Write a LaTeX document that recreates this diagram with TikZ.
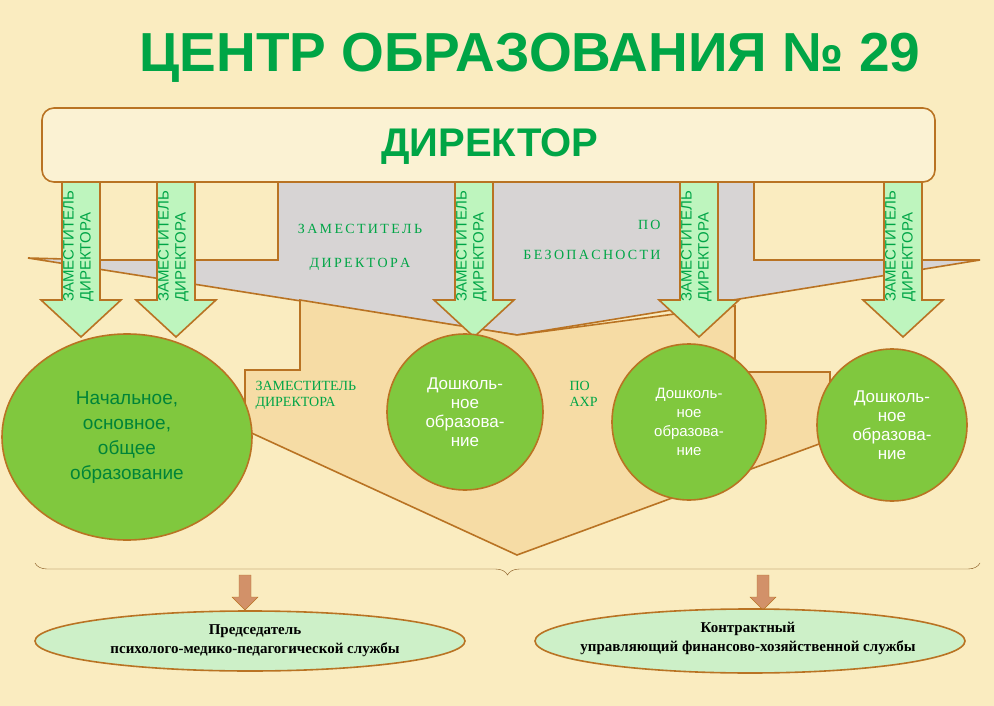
\documentclass[tikz,border=0pt]{standalone}
\usepackage{fontspec}
\setmainfont{Liberation Serif}
\setsansfont{Liberation Sans}
\usetikzlibrary{decorations.pathreplacing,shapes.geometric}
\definecolor{bgcream}{RGB}{250,236,192}
\definecolor{brownline}{RGB}{185,115,35}
\definecolor{grayfill}{RGB}{215,212,212}
\definecolor{beigefill}{RGB}{246,220,165}
\definecolor{titlegreen}{RGB}{0,165,70}
\definecolor{circlegreen}{RGB}{128,200,62}
\definecolor{arrowgreen}{RGB}{190,245,190}
\definecolor{ovalgreen}{RGB}{205,240,200}
\definecolor{downbrown}{RGB}{210,145,105}
\tikzset{
  outline/.style={draw=brownline, line width=1.6pt},
  unit/.style={outline, fill=circlegreen, ellipse, inner sep=0pt},
  deptext/.style={font=\sffamily\fontsize{17}{19}\selectfont, text=white, align=center},
  seriflabel/.style={font=\fontsize{14}{16}\selectfont, text=titlegreen, align=left},
  oval/.style={outline, fill=ovalgreen},
}
\begin{document}
\begin{tikzpicture}[x=1pt, y=-1pt]
  % background
  \fill[bgcream] (0,0) rectangle (994,706);
  \useasboundingbox (0,0) rectangle (994,706);

  % title
  \node[font=\sffamily\bfseries\fontsize{55}{57}\selectfont, text=titlegreen] (title) at (530,58) {ЦЕНТР ОБРАЗОВАНИЯ № 29};

  % deputy areas
  \draw[outline, fill=grayfill] (100,260) -- (278,260) -- (278,182) -- (754,182) -- (754,260) -- (980,260)
     -- (517,335) -- (28,258) -- cycle;
  \draw[outline, fill=beigefill] (300,300) -- (300,370) -- (245,370) -- (245,430) -- (517,555) -- (830,440)
     -- (830,372) -- (735,372) -- (735,306) -- (517,335) -- cycle;

  % director
  \draw[outline, fill=bgcream!70!white, rounded corners=12pt] (42,108) rectangle (935,182);
  \node[font=\sffamily\bfseries\fontsize{40}{42}\selectfont, text=titlegreen] (director) at (490,147) {ДИРЕКТОР};

  % deputy labels
  \node[seriflabel, font=\fontsize{14}{34}\selectfont, align=center] (safety1) at (360,247) {З\,А\,М\,Е\,С\,Т\,И\,Т\,Е\,Л\,Ь\\Д\,И\,Р\,Е\,К\,Т\,О\,Р\,А};
  \node[seriflabel, font=\fontsize{14}{30}\selectfont, align=right] (safety2) at (592,240) {П\,О\hspace{2.7em}\\Б\,Е\,З\,О\,П\,А\,С\,Н\,О\,С\,Т\,И};
  \node[seriflabel, anchor=north west] (ahr1) at (252,378) {ЗАМЕСТИТЕЛЬ\\ДИРЕКТОРА};
  \node[seriflabel, anchor=north west] (ahr2) at (566,378) {ПО\\АХР};

  % deputy arrows
  \foreach \cx in {81,176,474,699,903}{
    \draw[outline, fill=arrowgreen] (\cx-19,182) -- (\cx+19,182) -- (\cx+19,300) -- (\cx+40,300)
       -- (\cx,337) -- (\cx-40,300) -- (\cx-19,300) -- cycle;
    \node[rotate=90, font=\sffamily\fontsize{15}{17}\selectfont, text=titlegreen, align=left,
          anchor=north west, inner sep=1pt] at (\cx-19,303) {ЗАМЕСТИТЕЛЬ\\ДИРЕКТОРА};
  }

  % units
  \node[unit, minimum width=250pt, minimum height=206pt, deptext, text=titlegreen!80!black,
        font=\sffamily\fontsize{19}{25}\selectfont] (school) at (127,437) {Начальное,\\основное,\\общее\\образование};
  \node[unit, minimum width=156pt, minimum height=156pt, deptext] (preschool1) at (465,412) {Дошколь-\\ное\\образова-\\ние};
  \node[unit, minimum width=154pt, minimum height=156pt, deptext, font=\sffamily\fontsize{15}{19}\selectfont] (preschool2) at (689,422) {Дошколь-\\ное\\образова-\\ние};
  \node[unit, minimum width=150pt, minimum height=152pt, deptext] (preschool3) at (892,425) {Дошколь-\\ное\\образова-\\ние};

  % brace
  \draw[brownline!70!black, thin, decorate, decoration={brace, amplitude=12pt, mirror}] (35,563) -- (980,563);

  % services
  \foreach \cx in {245,763}{
    \draw[draw=brownline, fill=downbrown] (\cx-6,575) -- (\cx+6,575) -- (\cx+6,597) -- (\cx+13,597)
       -- (\cx,610) -- (\cx-13,597) -- (\cx-6,597) -- cycle;
  }
  \draw[oval] (250,641) ellipse (215pt and 30pt);
  \draw[oval] (750,641) ellipse (215pt and 32pt);
  \node[font=\bfseries\fontsize{15}{19}\selectfont, align=center] (psych) at (255,641) {Председатель\\психолого-медико-педагогической службы};
  \node[font=\bfseries\fontsize{15}{19}\selectfont, align=center] (finance) at (748,638) {Контрактный\\управляющий финансово-хозяйственной службы};
\end{tikzpicture}
\end{document}
